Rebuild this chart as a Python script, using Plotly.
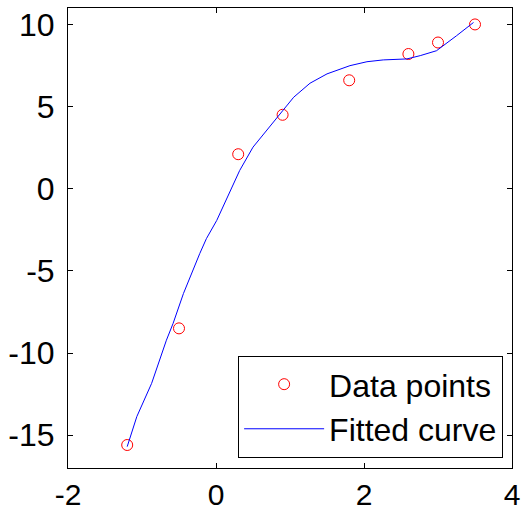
import plotly.graph_objects as go

# Data points
data_x = [-1.2, -0.5, 0.3, 0.9, 1.8, 2.6, 3.0, 3.5]
data_y = [-15.6, -8.5, 2.1, 4.5, 6.6, 8.2, 8.9, 10.0]

# Fitted curve samples
curve_x = [-1.2, -1.07, -0.87, -0.67, -0.58, -0.44, -0.22, -0.13, 0.01, 0.23, 0.32,
           0.50, 0.89, 1.05, 1.27, 1.50, 1.81, 2.04, 2.26, 2.58, 2.76, 2.98, 3.25, 3.48]
curve_y = [-15.7, -13.87, -11.85, -9.22, -8.2, -6.38, -3.95, -3.04, -1.93, 0.30, 1.11,
           2.53, 4.65, 5.57, 6.42, 6.99, 7.49, 7.73, 7.84, 7.9, 8.1, 8.40, 9.31, 10.12]

x_ticks = [-2, 0, 2, 4]
y_ticks = [-15, -10, -5, 0, 5, 10]

FONT = "Liberation Sans, Arial, sans-serif"

fig = go.Figure()
fig.add_trace(go.Scatter(
    x=data_x, y=data_y, mode="markers", name="Data points",
    marker=dict(symbol="circle-open", size=11, color="#ff0000", line=dict(width=1, color="#ff0000")),
))
fig.add_trace(go.Scatter(
    x=curve_x, y=curve_y, mode="lines", name="Fitted curve",
    line=dict(color="#0000ff", width=1),
))

axis_common = dict(
    showline=True, linecolor="black", linewidth=1, mirror="ticks",
    ticks="inside", ticklen=5, tickcolor="black", tickwidth=1,
    showgrid=False, zeroline=False, automargin=False,
    ticklabeloverflow="allow",
)

fig.update_layout(
    width=529, height=508,
    margin=dict(l=68, r=17, t=8, b=40, autoexpand=False),
    plot_bgcolor="white", paper_bgcolor="white",
    xaxis=dict(range=[-2, 4], tickvals=x_ticks, ticktext=[str(v) for v in x_ticks],
               ticklabelstandoff=0, tickfont=dict(family=FONT, size=30, color="black"),
               **axis_common),
    yaxis=dict(range=[-17, 11], tickvals=y_ticks, ticktext=[str(v) for v in y_ticks],
               ticklabelstandoff=6, tickfont=dict(family=FONT, size=32, color="black"),
               **axis_common),
    showlegend=True,
    legend=dict(
        x=0.98, y=0.022, xanchor="right", yanchor="bottom",
        bgcolor="white", bordercolor="black", borderwidth=1,
        font=dict(family=FONT, size=32, color="black"),
        traceorder="normal", itemwidth=80,
    ),
)

# remove the browser's default 8px body margin so the figure fills the window exactly
fig.write_html("out.html", config={"displayModeBar": False},
               post_script="document.body.style.margin='0';")
